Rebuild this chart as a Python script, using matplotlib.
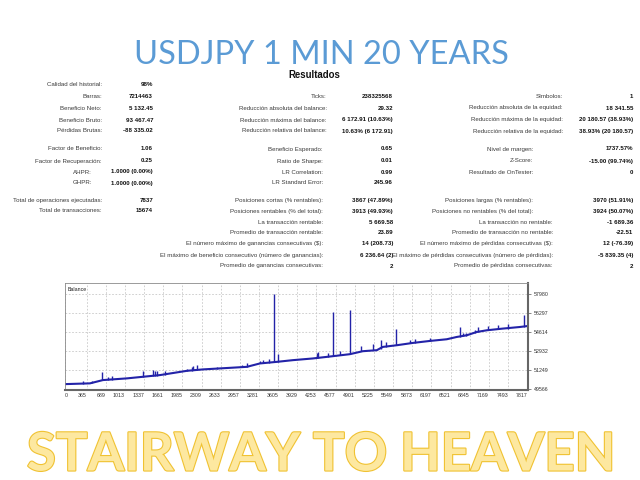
import numpy as np
import matplotlib.pyplot as plt
import matplotlib.patheffects as pe
from matplotlib import font_manager

# balance curve (trade number, balance)
base_trade = [0, 422, 642, 1048, 1318, 1606, 2062, 2332, 2620, 2907, 3076, 3296, 3583,
              3853, 4191, 4428, 4529, 4817, 5036, 5273, 5374, 5611, 5881, 6169, 6456,
              6625, 6794, 6963, 7132, 7402, 7690, 7808]
base_balance = [50000, 50068, 50359, 50509, 50650, 50800, 51178, 51302, 51390, 51478,
                51531, 51830, 51971, 52121, 52271, 52412, 52473, 52650, 52914, 53002,
                53293, 53442, 53645, 53821, 53971, 54174, 54323, 54614, 54764, 54914,
                55055, 55132]

# spikes on the balance line
spike_trade = [304, 456, 620, 727, 794, 1098, 1318, 1487, 1521, 1555, 1690, 2062, 2146,
               2172, 2231, 2569, 2991, 3076, 3296, 3346, 3448, 3527, 3600, 4259, 4284,
               4445, 4529, 4648, 4817, 5014, 5210, 5352, 5437, 5594, 5830, 5915, 6169,
               6676, 6731, 6788, 6929, 6985, 7154, 7323, 7492, 7762]
spike_low = [50030, 50068, 50330, 50360, 50380, 50520, 50650, 50720, 50730, 50740, 50850,
             51150, 51200, 51210, 51240, 51380, 51500, 51531, 51830, 51850, 51900, 51940,
             51980, 52300, 52310, 52420, 52470, 52540, 52650, 52900, 52980, 53100, 53300,
             53430, 53600, 53660, 53820, 54200, 54230, 54300, 54550, 54620, 54770, 54860,
             54920, 55100]
spike_high = [50300, 50270, 51040, 50600, 50710, 50650, 51180, 51240, 51200, 51150, 51180,
              51300, 51480, 51590, 51680, 51530, 51680, 51830, 52030, 52120, 52180, 58000,
              52650, 52770, 52850, 52770, 56350, 52910, 56530, 53350, 53590, 53945, 53730,
              54914, 53945, 53950, 54120, 55055, 54530, 54500, 54830, 55055, 55143, 55204,
              55292, 56085]

x_ticks = [0, 365, 689, 1013, 1337, 1661, 1985, 2309, 2633, 2957, 3281, 3605, 3929, 4253,
           4577, 4901, 5225, 5549, 5873, 6197, 6521, 6845, 7169, 7493, 7817]
y_ticks = [49566, 51249, 52932, 54614, 56297, 57980]

# report table
col1_labels = ['Calidad del historial:', 'Barras:', 'Beneficio Neto:', 'Beneficio Bruto:',
               'Pérdidas Brutas:', 'Factor de Beneficio:', 'Factor de Recuperación:', 'AHPR:',
               'GHPR:', 'Total de operaciones ejecutadas:', 'Total de transacciones:']
col1_values = ['98%', '7214463', '5 132.45', '93 467.47', '-88 335.02', '1.06', '0.25',
               '1.0000 (0.00%)', '1.0000 (0.00%)', '7837', '15674']
col2_labels = ['Ticks:', 'Reducción absoluta del balance:', 'Reducción máxima del balance:',
               'Reducción relativa del balance:', 'Beneficio Esperado:', 'Ratio de Sharpe:',
               'LR Correlation:', 'LR Standard Error:', 'Posiciones cortas (% rentables):',
               'Posiciones rentables (% del total):', 'La transacción rentable:',
               'Promedio de transacción rentable:',
               'El número máximo de ganancias consecutivas ($):',
               'El máximo de beneficio consecutivo (número de ganancias):',
               'Promedio de ganancias consecutivas:']
col2_values = ['238325568', '29.32', '6 172.91 (10.63%)', '10.63% (6 172.91)', '0.65', '0.01',
               '0.99', '245.96', '3867 (47.89%)', '3913 (49.93%)', '5 669.58', '23.89',
               '14 (208.73)', '6 236.64 (2)', '2']
col3_labels = ['Símbolos:', 'Reducción absoluta de la equidad:', 'Reducción máxima de la equidad:',
               'Reducción relativa de la equidad:', 'Nivel de margen:', 'Z-Score:',
               'Resultado de OnTester:', 'Posiciones largas (% rentables):',
               'Posiciones no rentables (% del total):', 'La transacción no rentable:',
               'Promedio de transacción no rentable:',
               'El número máximo de pérdidas consecutivas ($):',
               'El máximo de pérdidas consecutivas (número de pérdidas):',
               'Promedio de pérdidas consecutivas:']
col3_values = ['1', '18 341.55', '20 180.57 (38.93%)', '38.93% (20 180.57)', '1737.57%',
               '-15.00 (99.74%)', '0', '3970 (51.91%)', '3924 (50.07%)', '-1 689.36', '-22.51',
               '12 (-76.39)', '-5 839.35 (4)', '2']

# layout in pixels (row centres, right edges of labels / values)
col1_y = [85, 97, 108, 120, 131, 149, 161, 172, 183, 200, 211]
col1_lx = [102, 102, 102, 102, 102, 102, 102, 92, 92, 102, 102]
col2_y = [97, 108, 120, 131, 149, 161, 172, 183, 200, 211, 222, 233, 244, 255, 266]
col2_lx = [327] * 4 + [323] * 11
col3_y = [97, 108, 120, 131, 149, 161, 172, 200, 211, 222, 233, 244, 255, 266]
col3_lx = [563] * 4 + [533] * 5 + [553] * 5

try:
    font_manager.findfont('Liberation Sans Narrow', fallback_to_default=False)
    small_font, fs = 'Liberation Sans Narrow', 5.4
except ValueError:
    small_font, fs = 'Liberation Sans', 4.45


def fx(x):
    return x / 640


def fy(y):
    return 1 - y / 480


fig = plt.figure(figsize=(6.4, 4.8), dpi=100)
fig.patch.set_facecolor('white')

fig.text(fx(321), fy(64), 'USDJPY 1 MIN 20 YEARS', ha='center', va='baseline',
         fontsize=23.5, color='#5b9bd5', family='Lato')
fig.text(fx(314), fy(78), 'Resultados', ha='center', va='baseline', fontsize=6.9,
         fontweight='bold', color='#111111', family='Liberation Sans')

for labels, values, ys, lxs, vx in [(col1_labels, col1_values, col1_y, col1_lx, 153),
                                    (col2_labels, col2_values, col2_y, col2_lx, 393),
                                    (col3_labels, col3_values, col3_y, col3_lx, 633)]:
    for lab, val, y, lx in zip(labels, values, ys, lxs):
        fig.text(fx(lx), fy(y), lab, ha='right', va='center', fontsize=fs,
                 color='#3a3a3a', family=small_font)
        fig.text(fx(vx), fy(y), val, ha='right', va='center', fontsize=fs,
                 fontweight='bold', color='#111111', family=small_font)

# balance graph
ax = fig.add_axes([fx(65), fy(390), fx(463), 107 / 480])
ax.plot(base_trade, base_balance, color='#2323a8', lw=1.5, solid_joinstyle='miter')
ax.vlines(spike_trade, spike_low, spike_high, color='#2323a8', lw=1.0)
ax.set_xlim(0, 7830)
ax.set_ylim(49480, 58950)
ax.set_xticks(x_ticks)
ax.set_xticklabels([str(v) for v in x_ticks], fontsize=fs * 0.85, family=small_font,
                   color='#333333')
for i, t in enumerate(ax.get_xticklabels()):
    t.set_ha('left' if i == 0 else 'right')
ax.set_yticks(y_ticks)
ax.set_yticklabels([str(v) for v in y_ticks], fontsize=fs * 0.85, family=small_font,
                   color='#333333')
ax.yaxis.tick_right()
ax.tick_params(axis='x', length=0, pad=2)
ax.tick_params(axis='y', length=2, width=0.5, pad=2, color='#555555')
ax.grid(True, ls=(0, (2, 2)), color='#c8c8c8', lw=0.6)
for side in ['left', 'top']:
    ax.spines[side].set_color('#8a8a8a')
    ax.spines[side].set_linewidth(0.6)
for side in ['right', 'bottom']:
    ax.spines[side].set_color('#666666')
    ax.spines[side].set_linewidth(1.5)
ax.text(0.005, 0.96, 'Balance', transform=ax.transAxes, ha='left', va='top',
        fontsize=fs * 0.85, family=small_font, color='#222222')

fig.text(fx(321), fy(479.5), 'STAIRWAY TO HEAVEN', ha='center', va='bottom',
         fontsize=38, fontweight='bold', color='#fde8a0', family='Lato',
         path_effects=[pe.withStroke(linewidth=1.6, foreground='#f0c232')])

fig.savefig('out.png', dpi=100)
